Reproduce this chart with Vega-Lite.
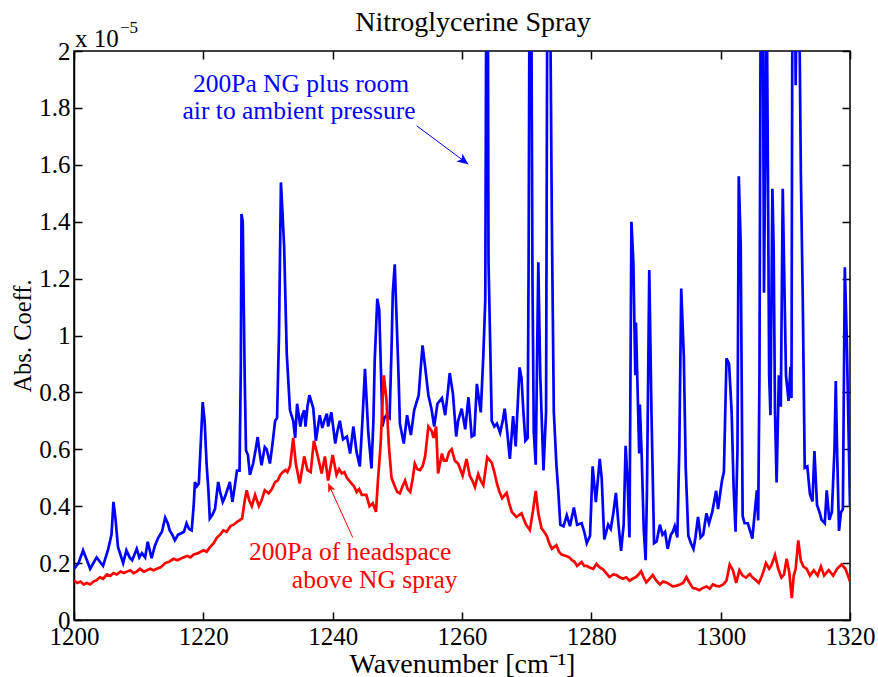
{
  "$schema": "https://vega.github.io/schema/vega-lite/v6.json",
  "width": 776,
  "height": 569,
  "autosize": {"type": "none"},
  "padding": {"left": 74, "top": 51, "right": 28, "bottom": 57},
  "background": "white",
  "title": {"text": "Nitroglycerine Spray", "font": "Liberation Serif", "fontSize": 28, "fontWeight": "normal", "color": "black", "anchor": "middle", "baseline": "alphabetic", "offset": 0, "dy": 40, "dx": 11},
  "config": {
    "view": {"stroke": "black", "strokeWidth": 1.5},
    "axis": {"grid": false, "domainColor": "black", "domainWidth": 1.5, "tickColor": "black", "tickWidth": 1.5, "tickSize": -8, "labelFont": "Liberation Serif", "labelFontSize": 25, "labelColor": "black", "titleFont": "Liberation Serif", "titleFontSize": 26, "titleFontWeight": "normal", "titleColor": "black"}
  },
  "datasets": {
    "spectra": [
      {"series":"room air","wavenumber":1200.0,"abs":0.18},{"series":"room air","wavenumber":1200.7,"abs":0.20},{"series":"room air","wavenumber":1201.4,"abs":0.245},{"series":"room air","wavenumber":1202.0,"abs":0.21},{"series":"room air","wavenumber":1202.5,"abs":0.18},{"series":"room air","wavenumber":1203.5,"abs":0.22},{"series":"room air","wavenumber":1204.5,"abs":0.19},{"series":"room air","wavenumber":1205.3,"abs":0.25},{"series":"room air","wavenumber":1205.8,"abs":0.30},{"series":"room air","wavenumber":1206.1,"abs":0.415},{"series":"room air","wavenumber":1206.4,"abs":0.36},{"series":"room air","wavenumber":1206.8,"abs":0.257},{"series":"room air","wavenumber":1207.6,"abs":0.20},{"series":"room air","wavenumber":1208.1,"abs":0.245},{"series":"room air","wavenumber":1208.6,"abs":0.22},{"series":"room air","wavenumber":1209.0,"abs":0.21},{"series":"room air","wavenumber":1209.7,"abs":0.25},{"series":"room air","wavenumber":1210.1,"abs":0.22},{"series":"room air","wavenumber":1210.5,"abs":0.235},{"series":"room air","wavenumber":1211.0,"abs":0.22},{"series":"room air","wavenumber":1211.4,"abs":0.275},{"series":"room air","wavenumber":1212.0,"abs":0.217},{"series":"room air","wavenumber":1212.5,"abs":0.26},{"series":"room air","wavenumber":1213.0,"abs":0.288},{"series":"room air","wavenumber":1213.6,"abs":0.31},{"series":"room air","wavenumber":1214.1,"abs":0.36},{"series":"room air","wavenumber":1214.5,"abs":0.34},{"series":"room air","wavenumber":1214.8,"abs":0.315},{"series":"room air","wavenumber":1215.2,"abs":0.30},{"series":"room air","wavenumber":1215.6,"abs":0.28},{"series":"room air","wavenumber":1216.1,"abs":0.30},{"series":"room air","wavenumber":1216.6,"abs":0.305},{"series":"room air","wavenumber":1217.0,"abs":0.31},{"series":"room air","wavenumber":1217.4,"abs":0.34},{"series":"room air","wavenumber":1217.8,"abs":0.32},{"series":"room air","wavenumber":1218.2,"abs":0.315},{"series":"room air","wavenumber":1218.5,"abs":0.40},{"series":"room air","wavenumber":1218.7,"abs":0.485},{"series":"room air","wavenumber":1219.0,"abs":0.47},{"series":"room air","wavenumber":1219.3,"abs":0.48},{"series":"room air","wavenumber":1219.6,"abs":0.62},{"series":"room air","wavenumber":1219.9,"abs":0.766},{"series":"room air","wavenumber":1220.2,"abs":0.70},{"series":"room air","wavenumber":1220.5,"abs":0.55},{"series":"room air","wavenumber":1220.8,"abs":0.45},{"series":"room air","wavenumber":1221.0,"abs":0.357},{"series":"room air","wavenumber":1221.4,"abs":0.37},{"series":"room air","wavenumber":1221.8,"abs":0.39},{"series":"room air","wavenumber":1222.3,"abs":0.485},{"series":"room air","wavenumber":1222.6,"abs":0.45},{"series":"room air","wavenumber":1223.0,"abs":0.415},{"series":"room air","wavenumber":1223.3,"abs":0.43},{"series":"room air","wavenumber":1223.6,"abs":0.45},{"series":"room air","wavenumber":1224.1,"abs":0.485},{"series":"room air","wavenumber":1224.5,"abs":0.415},{"series":"room air","wavenumber":1224.8,"abs":0.46},{"series":"room air","wavenumber":1225.2,"abs":0.525},{"series":"room air","wavenumber":1225.6,"abs":0.525},{"series":"room air","wavenumber":1225.8,"abs":0.90},{"series":"room air","wavenumber":1225.9,"abs":1.427},{"series":"room air","wavenumber":1226.1,"abs":1.40},{"series":"room air","wavenumber":1226.2,"abs":1.20},{"series":"room air","wavenumber":1226.4,"abs":0.85},{"series":"room air","wavenumber":1226.6,"abs":0.596},{"series":"room air","wavenumber":1226.9,"abs":0.58},{"series":"room air","wavenumber":1227.2,"abs":0.51},{"series":"room air","wavenumber":1227.7,"abs":0.55},{"series":"room air","wavenumber":1228.1,"abs":0.60},{"series":"room air","wavenumber":1228.4,"abs":0.643},{"series":"room air","wavenumber":1228.7,"abs":0.59},{"series":"room air","wavenumber":1229.0,"abs":0.544},{"series":"room air","wavenumber":1229.5,"abs":0.608},{"series":"room air","wavenumber":1229.8,"abs":0.60},{"series":"room air","wavenumber":1230.3,"abs":0.55},{"series":"room air","wavenumber":1230.7,"abs":0.62},{"series":"room air","wavenumber":1231.1,"abs":0.70},{"series":"room air","wavenumber":1231.4,"abs":0.71},{"series":"room air","wavenumber":1231.7,"abs":1.00},{"series":"room air","wavenumber":1232.0,"abs":1.538},{"series":"room air","wavenumber":1232.2,"abs":1.45},{"series":"room air","wavenumber":1232.5,"abs":1.31},{"series":"room air","wavenumber":1232.9,"abs":0.936},{"series":"room air","wavenumber":1233.4,"abs":0.737},{"series":"room air","wavenumber":1233.9,"abs":0.70},{"series":"room air","wavenumber":1234.2,"abs":0.64},{"series":"room air","wavenumber":1234.5,"abs":0.76},{"series":"room air","wavenumber":1235.0,"abs":0.68},{"series":"room air","wavenumber":1235.3,"abs":0.72},{"series":"room air","wavenumber":1235.6,"abs":0.737},{"series":"room air","wavenumber":1235.8,"abs":0.68},{"series":"room air","wavenumber":1236.1,"abs":0.75},{"series":"room air","wavenumber":1236.4,"abs":0.79},{"series":"room air","wavenumber":1237.0,"abs":0.745},{"series":"room air","wavenumber":1237.4,"abs":0.63},{"series":"room air","wavenumber":1238.0,"abs":0.72},{"series":"room air","wavenumber":1238.4,"abs":0.675},{"series":"room air","wavenumber":1238.7,"abs":0.70},{"series":"room air","wavenumber":1239.1,"abs":0.725},{"series":"room air","wavenumber":1239.3,"abs":0.68},{"series":"room air","wavenumber":1239.8,"abs":0.73},{"series":"room air","wavenumber":1240.4,"abs":0.62},{"series":"room air","wavenumber":1240.7,"abs":0.66},{"series":"room air","wavenumber":1241.1,"abs":0.70},{"series":"room air","wavenumber":1241.6,"abs":0.635},{"series":"room air","wavenumber":1242.2,"abs":0.645},{"series":"room air","wavenumber":1242.7,"abs":0.585},{"series":"room air","wavenumber":1243.2,"abs":0.68},{"series":"room air","wavenumber":1243.7,"abs":0.59},{"series":"room air","wavenumber":1244.2,"abs":0.54},{"series":"room air","wavenumber":1244.6,"abs":0.70},{"series":"room air","wavenumber":1245.0,"abs":0.883},{"series":"room air","wavenumber":1245.3,"abs":0.75},{"series":"room air","wavenumber":1245.5,"abs":0.66},{"series":"room air","wavenumber":1246.0,"abs":0.533},{"series":"room air","wavenumber":1246.3,"abs":0.70},{"series":"room air","wavenumber":1246.5,"abs":0.91},{"series":"room air","wavenumber":1246.9,"abs":1.129},{"series":"room air","wavenumber":1247.2,"abs":1.09},{"series":"room air","wavenumber":1247.5,"abs":0.85},{"series":"room air","wavenumber":1247.7,"abs":0.68},{"series":"room air","wavenumber":1248.0,"abs":0.71},{"series":"room air","wavenumber":1248.3,"abs":0.72},{"series":"room air","wavenumber":1248.8,"abs":0.71},{"series":"room air","wavenumber":1249.1,"abs":0.95},{"series":"room air","wavenumber":1249.3,"abs":1.15},{"series":"room air","wavenumber":1249.6,"abs":1.25},{"series":"room air","wavenumber":1249.9,"abs":1.05},{"series":"room air","wavenumber":1250.2,"abs":0.85},{"series":"room air","wavenumber":1250.4,"abs":0.69},{"series":"room air","wavenumber":1251.0,"abs":0.62},{"series":"room air","wavenumber":1251.5,"abs":0.72},{"series":"room air","wavenumber":1252.1,"abs":0.65},{"series":"room air","wavenumber":1252.6,"abs":0.737},{"series":"room air","wavenumber":1253.3,"abs":0.79},{"series":"room air","wavenumber":1253.6,"abs":0.88},{"series":"room air","wavenumber":1253.9,"abs":0.965},{"series":"room air","wavenumber":1254.3,"abs":0.89},{"series":"room air","wavenumber":1254.8,"abs":0.79},{"series":"room air","wavenumber":1255.3,"abs":0.74},{"series":"room air","wavenumber":1255.7,"abs":0.68},{"series":"room air","wavenumber":1256.2,"abs":0.76},{"series":"room air","wavenumber":1256.9,"abs":0.78},{"series":"room air","wavenumber":1257.4,"abs":0.72},{"series":"room air","wavenumber":1257.8,"abs":0.80},{"series":"room air","wavenumber":1258.1,"abs":0.868},{"series":"room air","wavenumber":1258.6,"abs":0.796},{"series":"room air","wavenumber":1259.1,"abs":0.645},{"series":"room air","wavenumber":1259.4,"abs":0.70},{"series":"room air","wavenumber":1259.95,"abs":0.743},{"series":"room air","wavenumber":1260.5,"abs":0.67},{"series":"room air","wavenumber":1261.0,"abs":0.783},{"series":"room air","wavenumber":1261.5,"abs":0.645},{"series":"room air","wavenumber":1261.9,"abs":0.65},{"series":"room air","wavenumber":1262.3,"abs":0.83},{"series":"room air","wavenumber":1262.9,"abs":0.73},{"series":"room air","wavenumber":1263.3,"abs":0.93},{"series":"room air","wavenumber":1263.6,"abs":1.125},{"series":"room air","wavenumber":1263.75,"abs":2.2},{"series":"room air","wavenumber":1263.9,"abs":1.9},{"series":"room air","wavenumber":1264.0,"abs":2.2},{"series":"room air","wavenumber":1264.1,"abs":1.26},{"series":"room air","wavenumber":1264.6,"abs":0.70},{"series":"room air","wavenumber":1265.0,"abs":0.68},{"series":"room air","wavenumber":1265.4,"abs":0.69},{"series":"room air","wavenumber":1265.9,"abs":0.658},{"series":"room air","wavenumber":1266.3,"abs":0.70},{"series":"room air","wavenumber":1266.6,"abs":0.743},{"series":"room air","wavenumber":1267.0,"abs":0.66},{"series":"room air","wavenumber":1267.4,"abs":0.566},{"series":"room air","wavenumber":1267.9,"abs":0.717},{"series":"room air","wavenumber":1268.3,"abs":0.61},{"series":"room air","wavenumber":1268.9,"abs":0.888},{"series":"room air","wavenumber":1269.2,"abs":0.85},{"series":"room air","wavenumber":1269.5,"abs":0.73},{"series":"room air","wavenumber":1269.8,"abs":0.63},{"series":"room air","wavenumber":1270.15,"abs":0.64},{"series":"room air","wavenumber":1270.3,"abs":1.257},{"series":"room air","wavenumber":1270.45,"abs":2.3},{"series":"room air","wavenumber":1270.7,"abs":2.3},{"series":"room air","wavenumber":1270.9,"abs":1.19},{"series":"room air","wavenumber":1271.1,"abs":0.66},{"series":"room air","wavenumber":1271.4,"abs":0.546},{"series":"room air","wavenumber":1271.8,"abs":1.257},{"series":"room air","wavenumber":1272.1,"abs":0.86},{"series":"room air","wavenumber":1272.6,"abs":0.526},{"series":"room air","wavenumber":1273.0,"abs":0.73},{"series":"room air","wavenumber":1273.2,"abs":2.3},{"series":"room air","wavenumber":1273.6,"abs":2.3},{"series":"room air","wavenumber":1273.9,"abs":1.39},{"series":"room air","wavenumber":1274.2,"abs":0.73},{"series":"room air","wavenumber":1274.6,"abs":0.546},{"series":"room air","wavenumber":1274.9,"abs":0.45},{"series":"room air","wavenumber":1275.2,"abs":0.335},{"series":"room air","wavenumber":1275.7,"abs":0.329},{"series":"room air","wavenumber":1276.2,"abs":0.368},{"series":"room air","wavenumber":1276.7,"abs":0.33},{"series":"room air","wavenumber":1277.3,"abs":0.395},{"series":"room air","wavenumber":1277.8,"abs":0.335},{"series":"room air","wavenumber":1278.5,"abs":0.34},{"series":"room air","wavenumber":1278.9,"abs":0.31},{"series":"room air","wavenumber":1279.3,"abs":0.27},{"series":"room air","wavenumber":1279.8,"abs":0.296},{"series":"room air","wavenumber":1280.2,"abs":0.54},{"series":"room air","wavenumber":1280.7,"abs":0.414},{"series":"room air","wavenumber":1281.3,"abs":0.566},{"series":"room air","wavenumber":1281.6,"abs":0.50},{"series":"room air","wavenumber":1282.0,"abs":0.283},{"series":"room air","wavenumber":1282.6,"abs":0.335},{"series":"room air","wavenumber":1283.0,"abs":0.32},{"series":"room air","wavenumber":1283.4,"abs":0.375},{"series":"room air","wavenumber":1283.8,"abs":0.447},{"series":"room air","wavenumber":1284.2,"abs":0.335},{"series":"room air","wavenumber":1284.6,"abs":0.243},{"series":"room air","wavenumber":1285.0,"abs":0.335},{"series":"room air","wavenumber":1285.3,"abs":0.612},{"series":"room air","wavenumber":1285.6,"abs":0.49},{"series":"room air","wavenumber":1285.9,"abs":0.29},{"series":"room air","wavenumber":1286.2,"abs":1.40},{"series":"room air","wavenumber":1286.5,"abs":1.257},{"series":"room air","wavenumber":1286.8,"abs":0.86},{"series":"room air","wavenumber":1286.9,"abs":1.046},{"series":"room air","wavenumber":1287.1,"abs":0.86},{"series":"room air","wavenumber":1287.4,"abs":0.585},{"series":"room air","wavenumber":1287.5,"abs":0.757},{"series":"room air","wavenumber":1287.8,"abs":0.57},{"series":"room air","wavenumber":1288.1,"abs":0.32},{"series":"room air","wavenumber":1288.4,"abs":0.21},{"series":"room air","wavenumber":1288.6,"abs":0.45},{"series":"room air","wavenumber":1288.96,"abs":1.23},{"series":"room air","wavenumber":1289.3,"abs":0.73},{"series":"room air","wavenumber":1289.7,"abs":0.27},{"series":"room air","wavenumber":1290.1,"abs":0.276},{"series":"room air","wavenumber":1290.6,"abs":0.335},{"series":"room air","wavenumber":1291.0,"abs":0.30},{"series":"room air","wavenumber":1291.4,"abs":0.31},{"series":"room air","wavenumber":1291.8,"abs":0.25},{"series":"room air","wavenumber":1292.3,"abs":0.30},{"series":"room air","wavenumber":1292.6,"abs":0.31},{"series":"room air","wavenumber":1292.9,"abs":0.33},{"series":"room air","wavenumber":1293.3,"abs":0.29},{"series":"room air","wavenumber":1293.6,"abs":0.60},{"series":"room air","wavenumber":1293.9,"abs":1.165},{"series":"room air","wavenumber":1294.3,"abs":0.928},{"series":"room air","wavenumber":1294.6,"abs":0.533},{"series":"room air","wavenumber":1295.0,"abs":0.296},{"series":"room air","wavenumber":1295.4,"abs":0.27},{"series":"room air","wavenumber":1295.8,"abs":0.25},{"series":"room air","wavenumber":1296.1,"abs":0.29},{"series":"room air","wavenumber":1296.5,"abs":0.362},{"series":"room air","wavenumber":1296.9,"abs":0.29},{"series":"room air","wavenumber":1297.3,"abs":0.30},{"series":"room air","wavenumber":1297.8,"abs":0.375},{"series":"room air","wavenumber":1298.2,"abs":0.34},{"series":"room air","wavenumber":1298.7,"abs":0.38},{"series":"room air","wavenumber":1299.3,"abs":0.454},{"series":"room air","wavenumber":1299.6,"abs":0.39},{"series":"room air","wavenumber":1300.2,"abs":0.49},{"series":"room air","wavenumber":1300.5,"abs":0.52},{"series":"room air","wavenumber":1300.9,"abs":0.92},{"series":"room air","wavenumber":1301.3,"abs":0.90},{"series":"room air","wavenumber":1301.7,"abs":0.73},{"series":"room air","wavenumber":1302.0,"abs":0.467},{"series":"room air","wavenumber":1302.3,"abs":0.31},{"series":"room air","wavenumber":1302.6,"abs":0.60},{"series":"room air","wavenumber":1302.8,"abs":1.56},{"series":"room air","wavenumber":1303.1,"abs":1.32},{"series":"room air","wavenumber":1303.4,"abs":0.365},{"series":"room air","wavenumber":1303.7,"abs":0.34},{"series":"room air","wavenumber":1304.2,"abs":0.34},{"series":"room air","wavenumber":1304.6,"abs":0.31},{"series":"room air","wavenumber":1304.9,"abs":0.286},{"series":"room air","wavenumber":1305.3,"abs":0.385},{"series":"room air","wavenumber":1305.6,"abs":0.456},{"series":"room air","wavenumber":1305.8,"abs":0.35},{"series":"room air","wavenumber":1306.0,"abs":0.86},{"series":"room air","wavenumber":1306.2,"abs":2.3},{"series":"room air","wavenumber":1306.5,"abs":2.3},{"series":"room air","wavenumber":1306.7,"abs":1.15},{"series":"room air","wavenumber":1306.9,"abs":1.65},{"series":"room air","wavenumber":1307.1,"abs":2.3},{"series":"room air","wavenumber":1307.3,"abs":1.6},{"series":"room air","wavenumber":1307.5,"abs":0.86},{"series":"room air","wavenumber":1307.7,"abs":0.72},{"series":"room air","wavenumber":1308.0,"abs":1.516},{"series":"room air","wavenumber":1308.2,"abs":1.3},{"series":"room air","wavenumber":1308.4,"abs":0.73},{"series":"room air","wavenumber":1308.65,"abs":0.483},{"series":"room air","wavenumber":1309.0,"abs":0.86},{"series":"room air","wavenumber":1309.3,"abs":0.75},{"series":"room air","wavenumber":1309.6,"abs":1.516},{"series":"room air","wavenumber":1309.8,"abs":1.25},{"series":"room air","wavenumber":1310.1,"abs":0.86},{"series":"room air","wavenumber":1310.5,"abs":0.77},{"series":"room air","wavenumber":1310.8,"abs":0.89},{"series":"room air","wavenumber":1310.95,"abs":0.78},{"series":"room air","wavenumber":1311.1,"abs":2.3},{"series":"room air","wavenumber":1311.45,"abs":2.3},{"series":"room air","wavenumber":1311.6,"abs":1.88},{"series":"room air","wavenumber":1311.8,"abs":2.3},{"series":"room air","wavenumber":1312.1,"abs":2.3},{"series":"room air","wavenumber":1312.4,"abs":1.57},{"series":"room air","wavenumber":1312.7,"abs":1.12},{"series":"room air","wavenumber":1313.0,"abs":0.535},{"series":"room air","wavenumber":1313.4,"abs":0.54},{"series":"room air","wavenumber":1313.8,"abs":0.443},{"series":"room air","wavenumber":1314.2,"abs":0.417},{"series":"room air","wavenumber":1314.5,"abs":0.594},{"series":"room air","wavenumber":1314.9,"abs":0.404},{"series":"room air","wavenumber":1315.3,"abs":0.378},{"series":"room air","wavenumber":1315.6,"abs":0.352},{"series":"room air","wavenumber":1316.1,"abs":0.34},{"series":"room air","wavenumber":1316.4,"abs":0.456},{"series":"room air","wavenumber":1316.8,"abs":0.352},{"series":"room air","wavenumber":1317.2,"abs":0.38},{"series":"room air","wavenumber":1317.6,"abs":0.60},{"series":"room air","wavenumber":1317.8,"abs":0.84},{"series":"room air","wavenumber":1318.0,"abs":0.60},{"series":"room air","wavenumber":1318.3,"abs":0.313},{"series":"room air","wavenumber":1318.6,"abs":0.378},{"series":"room air","wavenumber":1318.9,"abs":0.39},{"series":"room air","wavenumber":1319.2,"abs":1.24},{"series":"room air","wavenumber":1319.5,"abs":0.99},{"series":"room air","wavenumber":1320.0,"abs":0.40},
      {"series":"headspace","wavenumber":1200.0,"abs":0.14},{"series":"headspace","wavenumber":1200.5,"abs":0.13},{"series":"headspace","wavenumber":1201.0,"abs":0.135},{"series":"headspace","wavenumber":1201.5,"abs":0.125},{"series":"headspace","wavenumber":1202.0,"abs":0.13},{"series":"headspace","wavenumber":1202.5,"abs":0.125},{"series":"headspace","wavenumber":1203.0,"abs":0.135},{"series":"headspace","wavenumber":1203.5,"abs":0.14},{"series":"headspace","wavenumber":1204.0,"abs":0.15},{"series":"headspace","wavenumber":1204.5,"abs":0.145},{"series":"headspace","wavenumber":1205.1,"abs":0.16},{"series":"headspace","wavenumber":1205.6,"abs":0.155},{"series":"headspace","wavenumber":1206.1,"abs":0.165},{"series":"headspace","wavenumber":1206.6,"abs":0.16},{"series":"headspace","wavenumber":1207.2,"abs":0.17},{"series":"headspace","wavenumber":1207.7,"abs":0.165},{"series":"headspace","wavenumber":1208.2,"abs":0.17},{"series":"headspace","wavenumber":1208.7,"abs":0.175},{"series":"headspace","wavenumber":1209.2,"abs":0.165},{"series":"headspace","wavenumber":1209.7,"abs":0.17},{"series":"headspace","wavenumber":1210.2,"abs":0.18},{"series":"headspace","wavenumber":1210.8,"abs":0.17},{"series":"headspace","wavenumber":1211.3,"abs":0.175},{"series":"headspace","wavenumber":1211.8,"abs":0.18},{"series":"headspace","wavenumber":1212.3,"abs":0.175},{"series":"headspace","wavenumber":1212.8,"abs":0.18},{"series":"headspace","wavenumber":1213.4,"abs":0.185},{"series":"headspace","wavenumber":1214.1,"abs":0.20},{"series":"headspace","wavenumber":1214.7,"abs":0.205},{"series":"headspace","wavenumber":1215.4,"abs":0.215},{"series":"headspace","wavenumber":1216.0,"abs":0.21},{"series":"headspace","wavenumber":1216.9,"abs":0.22},{"series":"headspace","wavenumber":1217.5,"abs":0.225},{"series":"headspace","wavenumber":1218.0,"abs":0.22},{"series":"headspace","wavenumber":1218.5,"abs":0.23},{"series":"headspace","wavenumber":1219.2,"abs":0.235},{"series":"headspace","wavenumber":1220.0,"abs":0.245},{"series":"headspace","wavenumber":1220.5,"abs":0.24},{"series":"headspace","wavenumber":1221.0,"abs":0.255},{"series":"headspace","wavenumber":1221.6,"abs":0.27},{"series":"headspace","wavenumber":1222.1,"abs":0.29},{"series":"headspace","wavenumber":1222.6,"abs":0.30},{"series":"headspace","wavenumber":1223.1,"abs":0.315},{"series":"headspace","wavenumber":1223.6,"abs":0.31},{"series":"headspace","wavenumber":1224.2,"abs":0.33},{"series":"headspace","wavenumber":1224.7,"abs":0.335},{"series":"headspace","wavenumber":1225.2,"abs":0.345},{"series":"headspace","wavenumber":1225.6,"abs":0.35},{"series":"headspace","wavenumber":1226.0,"abs":0.357},{"series":"headspace","wavenumber":1226.4,"abs":0.42},{"series":"headspace","wavenumber":1226.7,"abs":0.456},{"series":"headspace","wavenumber":1227.1,"abs":0.42},{"series":"headspace","wavenumber":1227.5,"abs":0.40},{"series":"headspace","wavenumber":1228.0,"abs":0.44},{"series":"headspace","wavenumber":1228.6,"abs":0.40},{"series":"headspace","wavenumber":1229.0,"abs":0.42},{"series":"headspace","wavenumber":1229.5,"abs":0.456},{"series":"headspace","wavenumber":1230.1,"abs":0.445},{"series":"headspace","wavenumber":1230.6,"abs":0.46},{"series":"headspace","wavenumber":1231.1,"abs":0.485},{"series":"headspace","wavenumber":1231.5,"abs":0.49},{"series":"headspace","wavenumber":1231.9,"abs":0.51},{"series":"headspace","wavenumber":1232.3,"abs":0.52},{"series":"headspace","wavenumber":1232.7,"abs":0.527},{"series":"headspace","wavenumber":1233.0,"abs":0.52},{"series":"headspace","wavenumber":1233.4,"abs":0.54},{"series":"headspace","wavenumber":1233.9,"abs":0.64},{"series":"headspace","wavenumber":1234.3,"abs":0.55},{"series":"headspace","wavenumber":1234.9,"abs":0.48},{"series":"headspace","wavenumber":1235.6,"abs":0.575},{"series":"headspace","wavenumber":1236.1,"abs":0.527},{"series":"headspace","wavenumber":1236.6,"abs":0.52},{"series":"headspace","wavenumber":1237.1,"abs":0.63},{"series":"headspace","wavenumber":1237.6,"abs":0.585},{"series":"headspace","wavenumber":1238.3,"abs":0.515},{"series":"headspace","wavenumber":1238.8,"abs":0.575},{"series":"headspace","wavenumber":1239.3,"abs":0.49},{"series":"headspace","wavenumber":1240.0,"abs":0.58},{"series":"headspace","wavenumber":1240.6,"abs":0.51},{"series":"headspace","wavenumber":1241.0,"abs":0.53},{"series":"headspace","wavenumber":1241.4,"abs":0.515},{"series":"headspace","wavenumber":1241.8,"abs":0.52},{"series":"headspace","wavenumber":1242.2,"abs":0.50},{"series":"headspace","wavenumber":1242.9,"abs":0.48},{"series":"headspace","wavenumber":1243.3,"abs":0.47},{"series":"headspace","wavenumber":1243.7,"abs":0.45},{"series":"headspace","wavenumber":1244.1,"abs":0.46},{"series":"headspace","wavenumber":1244.5,"abs":0.44},{"series":"headspace","wavenumber":1245.2,"abs":0.44},{"series":"headspace","wavenumber":1245.7,"abs":0.40},{"series":"headspace","wavenumber":1246.2,"abs":0.41},{"series":"headspace","wavenumber":1246.7,"abs":0.38},{"series":"headspace","wavenumber":1247.0,"abs":0.49},{"series":"headspace","wavenumber":1247.4,"abs":0.61},{"series":"headspace","wavenumber":1247.9,"abs":0.86},{"series":"headspace","wavenumber":1248.3,"abs":0.78},{"series":"headspace","wavenumber":1248.7,"abs":0.61},{"series":"headspace","wavenumber":1249.1,"abs":0.50},{"series":"headspace","wavenumber":1249.6,"abs":0.47},{"series":"headspace","wavenumber":1250.0,"abs":0.45},{"series":"headspace","wavenumber":1250.4,"abs":0.445},{"series":"headspace","wavenumber":1250.8,"abs":0.47},{"series":"headspace","wavenumber":1251.2,"abs":0.49},{"series":"headspace","wavenumber":1251.6,"abs":0.46},{"series":"headspace","wavenumber":1252.0,"abs":0.45},{"series":"headspace","wavenumber":1252.4,"abs":0.50},{"series":"headspace","wavenumber":1252.7,"abs":0.55},{"series":"headspace","wavenumber":1253.1,"abs":0.53},{"series":"headspace","wavenumber":1253.5,"abs":0.527},{"series":"headspace","wavenumber":1253.9,"abs":0.54},{"series":"headspace","wavenumber":1254.3,"abs":0.575},{"series":"headspace","wavenumber":1254.8,"abs":0.68},{"series":"headspace","wavenumber":1255.3,"abs":0.665},{"series":"headspace","wavenumber":1255.6,"abs":0.64},{"series":"headspace","wavenumber":1256.0,"abs":0.68},{"series":"headspace","wavenumber":1256.3,"abs":0.515},{"series":"headspace","wavenumber":1256.9,"abs":0.585},{"series":"headspace","wavenumber":1257.2,"abs":0.56},{"series":"headspace","wavenumber":1257.6,"abs":0.56},{"series":"headspace","wavenumber":1258.0,"abs":0.59},{"series":"headspace","wavenumber":1258.4,"abs":0.60},{"series":"headspace","wavenumber":1258.9,"abs":0.56},{"series":"headspace","wavenumber":1259.4,"abs":0.55},{"series":"headspace","wavenumber":1260.1,"abs":0.507},{"series":"headspace","wavenumber":1260.7,"abs":0.566},{"series":"headspace","wavenumber":1261.2,"abs":0.507},{"series":"headspace","wavenumber":1261.6,"abs":0.49},{"series":"headspace","wavenumber":1262.0,"abs":0.467},{"series":"headspace","wavenumber":1262.5,"abs":0.513},{"series":"headspace","wavenumber":1262.9,"abs":0.49},{"series":"headspace","wavenumber":1263.3,"abs":0.474},{"series":"headspace","wavenumber":1263.9,"abs":0.572},{"series":"headspace","wavenumber":1264.6,"abs":0.553},{"series":"headspace","wavenumber":1265.0,"abs":0.52},{"series":"headspace","wavenumber":1265.4,"abs":0.48},{"series":"headspace","wavenumber":1265.8,"abs":0.45},{"series":"headspace","wavenumber":1266.2,"abs":0.428},{"series":"headspace","wavenumber":1266.9,"abs":0.447},{"series":"headspace","wavenumber":1267.3,"abs":0.41},{"series":"headspace","wavenumber":1267.7,"abs":0.38},{"series":"headspace","wavenumber":1268.4,"abs":0.362},{"series":"headspace","wavenumber":1269.2,"abs":0.375},{"series":"headspace","wavenumber":1269.9,"abs":0.335},{"series":"headspace","wavenumber":1270.5,"abs":0.316},{"series":"headspace","wavenumber":1271.0,"abs":0.388},{"series":"headspace","wavenumber":1271.4,"abs":0.454},{"series":"headspace","wavenumber":1271.8,"abs":0.375},{"series":"headspace","wavenumber":1272.3,"abs":0.322},{"series":"headspace","wavenumber":1272.7,"abs":0.31},{"series":"headspace","wavenumber":1273.1,"abs":0.296},{"series":"headspace","wavenumber":1273.5,"abs":0.27},{"series":"headspace","wavenumber":1273.9,"abs":0.25},{"series":"headspace","wavenumber":1274.6,"abs":0.263},{"series":"headspace","wavenumber":1275.0,"abs":0.24},{"series":"headspace","wavenumber":1275.4,"abs":0.23},{"series":"headspace","wavenumber":1276.2,"abs":0.224},{"series":"headspace","wavenumber":1276.6,"abs":0.22},{"series":"headspace","wavenumber":1277.0,"abs":0.21},{"series":"headspace","wavenumber":1277.4,"abs":0.205},{"series":"headspace","wavenumber":1277.8,"abs":0.19},{"series":"headspace","wavenumber":1278.5,"abs":0.204},{"series":"headspace","wavenumber":1278.9,"abs":0.19},{"series":"headspace","wavenumber":1279.3,"abs":0.19},{"series":"headspace","wavenumber":1279.8,"abs":0.184},{"series":"headspace","wavenumber":1280.3,"abs":0.18},{"series":"headspace","wavenumber":1280.8,"abs":0.197},{"series":"headspace","wavenumber":1281.3,"abs":0.185},{"series":"headspace","wavenumber":1281.8,"abs":0.178},{"series":"headspace","wavenumber":1282.3,"abs":0.165},{"series":"headspace","wavenumber":1282.8,"abs":0.151},{"series":"headspace","wavenumber":1283.4,"abs":0.16},{"series":"headspace","wavenumber":1283.9,"abs":0.158},{"series":"headspace","wavenumber":1284.4,"abs":0.15},{"series":"headspace","wavenumber":1284.9,"abs":0.145},{"series":"headspace","wavenumber":1285.4,"abs":0.15},{"series":"headspace","wavenumber":1285.9,"abs":0.138},{"series":"headspace","wavenumber":1286.4,"abs":0.145},{"series":"headspace","wavenumber":1286.9,"abs":0.151},{"series":"headspace","wavenumber":1287.3,"abs":0.16},{"series":"headspace","wavenumber":1287.7,"abs":0.171},{"series":"headspace","wavenumber":1288.1,"abs":0.15},{"series":"headspace","wavenumber":1288.5,"abs":0.132},{"series":"headspace","wavenumber":1289.0,"abs":0.145},{"series":"headspace","wavenumber":1289.5,"abs":0.158},{"series":"headspace","wavenumber":1290.0,"abs":0.14},{"series":"headspace","wavenumber":1290.6,"abs":0.125},{"series":"headspace","wavenumber":1291.1,"abs":0.135},{"series":"headspace","wavenumber":1291.6,"abs":0.132},{"series":"headspace","wavenumber":1292.1,"abs":0.125},{"series":"headspace","wavenumber":1292.6,"abs":0.118},{"series":"headspace","wavenumber":1293.1,"abs":0.12},{"series":"headspace","wavenumber":1293.7,"abs":0.125},{"series":"headspace","wavenumber":1294.2,"abs":0.13},{"series":"headspace","wavenumber":1294.7,"abs":0.151},{"series":"headspace","wavenumber":1295.2,"abs":0.13},{"series":"headspace","wavenumber":1295.7,"abs":0.112},{"series":"headspace","wavenumber":1296.2,"abs":0.11},{"series":"headspace","wavenumber":1296.7,"abs":0.105},{"series":"headspace","wavenumber":1297.2,"abs":0.112},{"series":"headspace","wavenumber":1297.8,"abs":0.118},{"series":"headspace","wavenumber":1298.3,"abs":0.11},{"series":"headspace","wavenumber":1298.8,"abs":0.125},{"series":"headspace","wavenumber":1299.3,"abs":0.12},{"series":"headspace","wavenumber":1299.8,"abs":0.118},{"series":"headspace","wavenumber":1300.4,"abs":0.125},{"series":"headspace","wavenumber":1300.9,"abs":0.138},{"series":"headspace","wavenumber":1301.4,"abs":0.195},{"series":"headspace","wavenumber":1301.9,"abs":0.175},{"series":"headspace","wavenumber":1302.4,"abs":0.13},{"series":"headspace","wavenumber":1302.9,"abs":0.175},{"series":"headspace","wavenumber":1303.4,"abs":0.156},{"series":"headspace","wavenumber":1303.9,"abs":0.149},{"series":"headspace","wavenumber":1304.5,"abs":0.162},{"series":"headspace","wavenumber":1304.9,"abs":0.15},{"series":"headspace","wavenumber":1305.3,"abs":0.143},{"series":"headspace","wavenumber":1305.9,"abs":0.13},{"series":"headspace","wavenumber":1306.3,"abs":0.15},{"series":"headspace","wavenumber":1306.6,"abs":0.169},{"series":"headspace","wavenumber":1307.0,"abs":0.20},{"series":"headspace","wavenumber":1307.5,"abs":0.18},{"series":"headspace","wavenumber":1307.8,"abs":0.19},{"series":"headspace","wavenumber":1308.1,"abs":0.208},{"series":"headspace","wavenumber":1308.4,"abs":0.228},{"series":"headspace","wavenumber":1308.9,"abs":0.18},{"series":"headspace","wavenumber":1309.4,"abs":0.149},{"series":"headspace","wavenumber":1309.8,"abs":0.16},{"series":"headspace","wavenumber":1310.2,"abs":0.215},{"series":"headspace","wavenumber":1310.6,"abs":0.169},{"series":"headspace","wavenumber":1311.0,"abs":0.077},{"series":"headspace","wavenumber":1311.3,"abs":0.156},{"series":"headspace","wavenumber":1311.6,"abs":0.18},{"series":"headspace","wavenumber":1312.0,"abs":0.28},{"series":"headspace","wavenumber":1312.4,"abs":0.208},{"series":"headspace","wavenumber":1312.8,"abs":0.188},{"series":"headspace","wavenumber":1313.3,"abs":0.18},{"series":"headspace","wavenumber":1313.8,"abs":0.156},{"series":"headspace","wavenumber":1314.4,"abs":0.175},{"series":"headspace","wavenumber":1315.0,"abs":0.156},{"series":"headspace","wavenumber":1315.5,"abs":0.188},{"series":"headspace","wavenumber":1316.0,"abs":0.156},{"series":"headspace","wavenumber":1316.7,"abs":0.175},{"series":"headspace","wavenumber":1317.4,"abs":0.156},{"series":"headspace","wavenumber":1318.0,"abs":0.18},{"series":"headspace","wavenumber":1318.7,"abs":0.195},{"series":"headspace","wavenumber":1319.3,"abs":0.18},{"series":"headspace","wavenumber":1319.8,"abs":0.149},{"series":"headspace","wavenumber":1320.0,"abs":0.135}
    ]
  },
  "resolve": {"axis": {"x": "independent", "y": "independent"}},
  "layer": [
    {
      "data": {"name": "spectra"},
      "mark": {"type": "line", "strokeWidth": 2.7, "clip": true},
      "encoding": {
        "x": {"field": "wavenumber", "type": "quantitative", "scale": {"domain": [1200, 1320], "nice": false, "zero": false},
              "axis": {"title": "Wavenumber [cm⁻¹]", "titleFontSize": 28, "values": [1200, 1220, 1240, 1260, 1280, 1300, 1320], "format": "d", "labelPadding": 12, "labelFlush": false, "titlePadding": 1}},
        "y": {"field": "abs", "type": "quantitative", "scale": {"domain": [0, 2], "nice": false},
              "axis": {"title": "Abs. Coeff.", "titleFontSize": 24.5, "values": [0, 0.2, 0.4, 0.6, 0.8, 1, 1.2, 1.4, 1.6, 1.8, 2], "format": "~g", "labelPadding": 12, "labelFlush": false, "titlePadding": 3}},
        "color": {"field": "series", "type": "nominal", "scale": {"domain": ["room air", "headspace"], "range": ["#0000ff", "#ff0000"]}, "legend": null}
      }
    },
    {
      "data": {"values": [
        {"label": "blue", "x1": 1253.0, "y1": 1.737, "x2": 1260.97, "y2": 1.602},
        {"label": "red", "x1": 1243.1, "y1": 0.29, "x2": 1239.32, "y2": 0.48}
      ]},
      "mark": {"type": "rule", "strokeWidth": 1},
      "encoding": {
        "x": {"field": "x1", "type": "quantitative", "axis": {"orient": "top", "labels": false, "title": null, "values": [1200, 1220, 1240, 1260, 1280, 1300, 1320], "domain": false}},
        "y": {"field": "y1", "type": "quantitative", "axis": {"orient": "right", "labels": false, "title": null, "values": [0, 0.2, 0.4, 0.6, 0.8, 1, 1.2, 1.4, 1.6, 1.8, 2], "domain": false}},
        "x2": {"field": "x2"},
        "y2": {"field": "y2"},
        "color": {"field": "label", "type": "nominal", "scale": {"domain": ["blue", "red"], "range": ["#0000ff", "#ff0000"]}, "legend": null}
      }
    },
    {
      "data": {"values": [{"x": 1260.97, "y": 1.602}]},
      "mark": {"type": "point", "shape": "M0,0L-0.45,1L0,0.75L0.45,1Z", "size": 500, "filled": true, "color": "#0000ff", "angle": 127, "opacity": 1},
      "encoding": {
        "x": {"field": "x", "type": "quantitative", "axis": null},
        "y": {"field": "y", "type": "quantitative", "axis": null}
      }
    },
    {
      "data": {"values": [{"x": 1239.32, "y": 0.48}]},
      "mark": {"type": "point", "shape": "M0,0L-0.45,1L0,0.75L0.45,1Z", "size": 300, "filled": true, "color": "#ff0000", "angle": 336, "opacity": 1},
      "encoding": {
        "x": {"field": "x", "type": "quantitative", "axis": null},
        "y": {"field": "y", "type": "quantitative", "axis": null}
      }
    },
    {
      "data": {"values": [
        {"text": "200Pa NG plus room", "x": 1235.1, "y": 1.857},
        {"text": "air to ambient pressure", "x": 1234.8, "y": 1.761}
      ]},
      "mark": {"type": "text", "font": "Liberation Serif", "fontSize": 25.5, "color": "#0000ff", "align": "center", "baseline": "alphabetic"},
      "encoding": {
        "x": {"field": "x", "type": "quantitative", "axis": null},
        "y": {"field": "y", "type": "quantitative", "axis": null},
        "text": {"field": "text"}
      }
    },
    {
      "data": {"values": [
        {"text": "200Pa of headspace", "x": 1242.7, "y": 0.2105},
        {"text": "above NG spray", "x": 1246.5, "y": 0.111}
      ]},
      "mark": {"type": "text", "font": "Liberation Serif", "fontSize": 25.5, "color": "#ff0000", "align": "center", "baseline": "alphabetic"},
      "encoding": {
        "x": {"field": "x", "type": "quantitative", "axis": null},
        "y": {"field": "y", "type": "quantitative", "axis": null},
        "text": {"field": "text"}
      }
    },
    {
      "data": {"values": [{"text": "x 10", "x": 1200, "y": 2}]},
      "mark": {"type": "text", "font": "Liberation Serif", "fontSize": 25, "color": "black", "align": "left", "baseline": "alphabetic", "dx": 1, "dy": -4},
      "encoding": {
        "x": {"field": "x", "type": "quantitative", "axis": null},
        "y": {"field": "y", "type": "quantitative", "axis": null},
        "text": {"field": "text"}
      }
    },
    {
      "data": {"values": [{"text": "−5", "x": 1200, "y": 2}]},
      "mark": {"type": "text", "font": "Liberation Serif", "fontSize": 17, "color": "black", "align": "left", "baseline": "alphabetic", "dx": 46, "dy": -18},
      "encoding": {
        "x": {"field": "x", "type": "quantitative", "axis": null},
        "y": {"field": "y", "type": "quantitative", "axis": null},
        "text": {"field": "text"}
      }
    }
  ]
}
